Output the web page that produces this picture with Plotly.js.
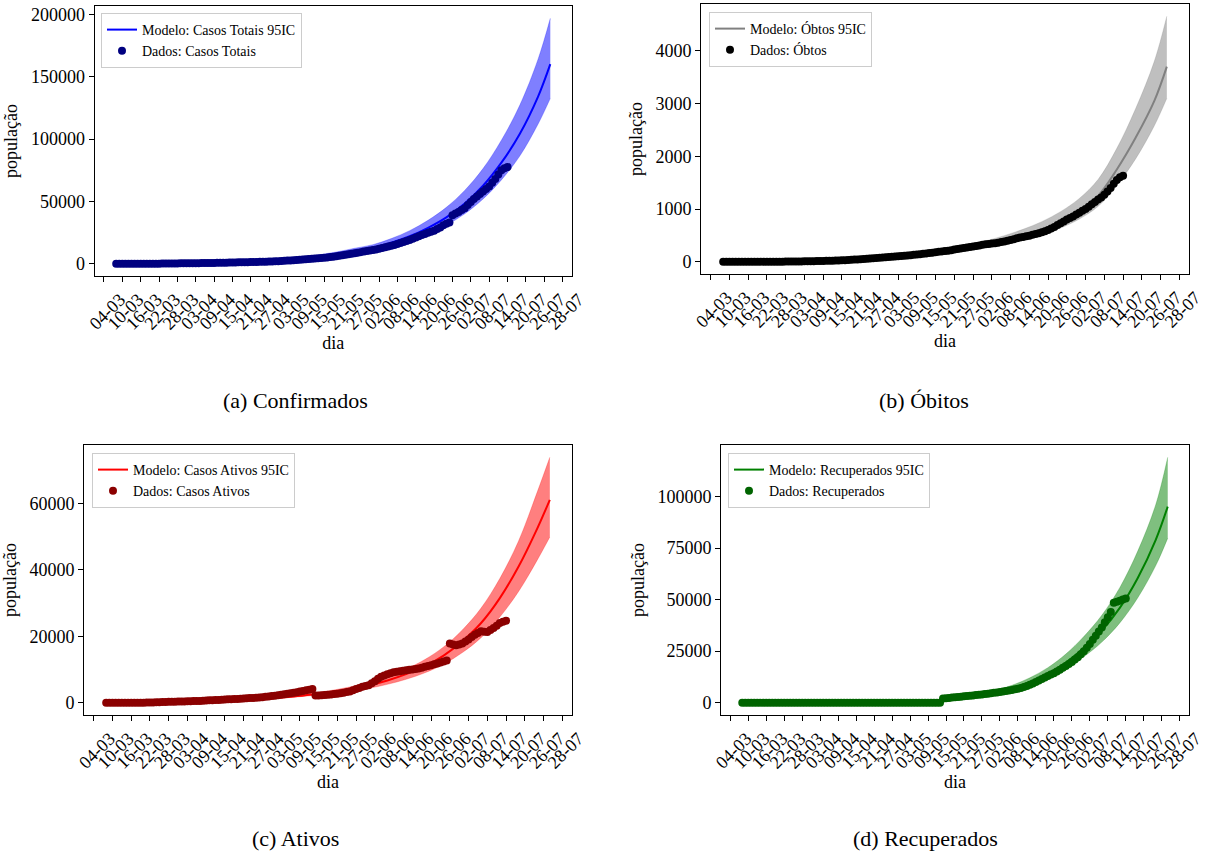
<!DOCTYPE html>
<html>
<head>
<meta charset="utf-8">
<script src="https://cdn.plot.ly/plotly-3.0.1.min.js"></script>
<style>html,body{margin:0;padding:0;background:#fff;}#chart{width:1211px;height:854px;}</style>
</head>
<body>
<div id="chart"></div>
<script>
// ---- data (day index counted from 04-03) ----
const tickDays = [0,6,12,18,24,30,36,42,48,54,60,66,72,78,84,90,96,102,108,114,120,126,132,138,144,150];
const tickLabels = ['04-03','10-03','16-03','22-03','28-03','03-04','09-04','15-04','21-04','27-04','03-05','09-05','15-05','21-05','27-05','02-06','08-06','14-06','20-06','26-06','02-07','08-07','14-07','20-07','26-07','28-07'];

const diasDados = [4,5,6,7,8,9,10,11,12,13,
  14,15,16,17,18,19,20,21,22,23,
  24,25,26,27,28,29,30,31,32,33,
  34,35,36,37,38,39,40,41,42,43,
  44,45,46,47,48,49,50,51,52,53,
  54,55,56,57,58,59,60,61,62,63,
  64,65,66,67,68,69,70,71,72,73,
  74,75,76,77,78,79,80,81,82,83,
  84,85,86,87,88,89,90,91,92,93,
  94,95,96,97,98,99,100,101,102,103,
  104,105,106,107,108,109,110,111,112,113,
  114,115,116,117,118,119,120,121,122,123,
  124,125,126,127,128,129,130,131,132];

const casosTotais = [1,1,1,1,1,1,2,4,5,9,
  15,21,30,55,80,105,130,160,200,230,
  260,290,310,340,370,400,430,465,500,530,
  570,625,680,730,780,830,880,940,1000,1050,
  1100,1150,1200,1250,1300,1380,1450,1520,1600,1680,
  1750,1850,1950,2080,2200,2350,2500,2650,2800,2950,
  3100,3300,3500,3700,3900,4100,4300,4550,4800,5050,
  5300,5650,6000,6400,6800,7200,7600,8000,8400,8850,
  9300,9750,10200,10600,11000,11500,12000,12700,13300,13900,
  14500,15100,15800,16700,17500,18200,19000,20000,21000,22000,
  23000,23900,24800,25600,26500,27800,29000,30800,32000,33000,
  38800,40200,41500,43000,44500,47000,49500,51800,54000,56000,
  58000,60000,62000,65000,68000,71500,75000,76500,77500];

const obitos = [0,0,0,0,0,0,0,0,0,0,
  0,0,0,0,0,0,0,0,1,1,
  2,2,3,4,5,6,7,8,9,11,
  12,14,15,17,18,20,22,25,27,30,
  32,36,40,44,47,51,55,60,65,71,
  76,80,85,90,95,100,105,110,115,120,
  125,132,138,144,150,158,165,172,180,188,
  195,203,210,220,230,240,250,260,270,280,
  290,300,310,320,330,338,345,352,360,372,
  385,398,410,428,445,458,470,482,495,510,
  525,542,560,580,600,630,660,695,730,765,
  800,830,860,895,930,965,1000,1045,1090,1135,
  1180,1220,1270,1330,1400,1480,1550,1600,1630];

const casosAtivos = [1,1,1,1,1,1,2,4,5,9,
  15,21,30,55,80,105,130,160,199,229,
  258,288,307,336,365,394,423,457,491,519,
  558,611,665,713,762,810,858,915,973,1020,
  1068,1114,1160,1206,1253,1329,1395,1460,1535,1609,
  1674,1770,1865,1990,2105,2250,2395,2540,2685,2830,
  2975,3168,3362,3556,3750,3942,4100,2200,2200,2250,
  2300,2400,2500,2600,2700,2850,3000,3200,3400,3750,
  4100,4450,4800,5050,5300,5900,6500,7200,7800,8200,
  8600,8900,9200,9350,9500,9650,9800,9900,10000,10150,
  10300,10550,10800,11050,11300,11550,11800,12100,12400,12700,
  17800,17500,17300,17500,17800,18400,19000,19800,20500,21000,
  21500,21400,21300,21900,22500,23200,24000,24400,24700];

const recuperados = [0,0,0,0,0,0,0,0,0,0,
  0,0,0,0,0,0,0,0,0,0,
  0,0,0,0,0,0,0,0,0,0,
  0,0,0,0,0,0,0,0,0,0,
  0,0,0,0,0,0,0,0,0,0,
  0,0,0,0,0,0,0,0,0,0,
  0,0,0,0,0,0,0,2100,2200,2350,
  2500,2650,2800,2950,3100,3250,3400,3550,3700,3850,
  4000,4200,4400,4600,4800,5000,5200,5450,5700,5950,
  6200,6500,6800,7200,7600,8150,8700,9350,10000,10750,
  11500,12250,13000,13650,14300,15150,16000,16900,17800,18800,
  19800,20900,22000,23500,25000,26700,28500,30500,32500,34500,
  36500,39000,41500,44000,48500,49000,49500,50000,50500];

const diasModelo = [4,10,16,22,28,34,40,46,52,58,64,70,76,82,88,94,100,106,112,118,124,130,136,142,146];

const modeloCasos    = [5,35,100,220,400,650,1000,1500,2200,3100,4300,5900,7900,10400,12800,16800,22000,28800,37200,48200,62500,81000,104000,134000,160000];
const modeloCasosSup = [5,38,110,245,450,740,1150,1750,2600,3650,5100,7000,9400,12400,15300,20200,26500,34800,45200,58800,76300,99000,127000,164000,196800];
const modeloCasosInf = [5,32,90,200,360,580,880,1310,1900,2670,3680,5020,6700,8780,10700,14000,18300,23900,30900,40000,51900,67200,86300,112000,132600];

const modeloObitos    = [0,1,3,7,14,24,36,52,70,92,120,155,200,255,320,400,495,610,760,960,1250,1750,2350,3050,3700];
const modeloObitosSup = [0,1,3,8,16,28,42,61,83,110,144,188,244,312,395,495,615,760,950,1200,1560,2150,2900,3800,4655];
const modeloObitosInf = [0,1,3,6,12,21,31,45,60,78,101,130,168,214,268,336,416,513,640,810,1050,1450,1950,2580,3100];

const modeloAtivos    = [5,35,95,190,320,470,640,850,1100,1450,1900,2500,3200,4100,5200,6700,8600,11000,14200,18500,24000,31500,41000,52500,61100];
const modeloAtivosSup = [5,38,105,210,355,525,720,960,1250,1650,2170,2870,3700,4750,6050,7850,10100,13000,16800,21900,28500,37400,48700,63500,73900];
const modeloAtivosInf = [5,32,85,170,285,420,570,755,970,1270,1650,2150,2720,3450,4330,5530,7050,9000,11600,15100,19600,25800,33500,43000,49900];

const modeloRec    = [0,2,8,20,40,70,120,190,300,460,800,1300,2100,3200,4800,7000,10000,14000,19500,26500,35000,46000,60500,79000,95100];
const modeloRecSup = [0,2,9,23,46,82,140,225,355,550,960,1560,2520,3850,5800,8450,12100,17000,23600,32100,42400,55800,73500,96000,119000];
const modeloRecInf = [0,2,7,17,34,60,103,165,260,400,680,1100,1780,2700,4050,5900,8450,11800,16400,22300,29400,38700,50900,66500,79800];

// ---- styling ----
const FONT = 'Liberation Serif, Times New Roman, serif';
const panels = [
  {ax:'', leg:'legend', mod:modeloCasos, sup:modeloCasosSup, inf:modeloCasosInf, dat:casosTotais,
   lineC:'#0000ff', fillC:'rgba(0,0,255,0.5)', dotC:'#000080',
   modName:'Modelo: Casos Totais 95IC', datName:'Dados: Casos Totais', dtick:50000,
   xd:[94.5,572], yd:[6,276], legXY:[101,13], cap:'(a) Confirmados', capXY:[295,400]},
  {ax:'2', leg:'legend2', mod:modeloObitos, sup:modeloObitosSup, inf:modeloObitosInf, dat:obitos,
   lineC:'#808080', fillC:'rgba(128,128,128,0.5)', dotC:'#000000',
   modName:'Modelo: Óbtos 95IC', datName:'Dados: Óbtos', dtick:1000,
   xd:[701,1189], yd:[4,274], legXY:[709,12], cap:'(b) Óbitos', capXY:[924,400]},
  {ax:'3', leg:'legend3', mod:modeloAtivos, sup:modeloAtivosSup, inf:modeloAtivosInf, dat:casosAtivos,
   lineC:'#ff0000', fillC:'rgba(255,0,0,0.5)', dotC:'#8b0000',
   modName:'Modelo: Casos Ativos 95IC', datName:'Dados: Casos Ativos', dtick:20000,
   xd:[84,572], yd:[445,715], legXY:[92,453], cap:'(c) Ativos', capXY:[295,838]},
  {ax:'4', leg:'legend4', mod:modeloRec, sup:modeloRecSup, inf:modeloRecInf, dat:recuperados,
   lineC:'#008000', fillC:'rgba(0,128,0,0.5)', dotC:'#006400',
   modName:'Modelo: Recuperados 95IC', datName:'Dados: Recuperados', dtick:25000,
   xd:[721,1189], yd:[445,715], legXY:[728,453], cap:'(d) Recuperados', capXY:[925,838]}
];

const W = 1211, H = 854;
const traces = [];
const layout = {
  width: W, height: H,
  margin: {l:0, r:0, t:0, b:0},
  paper_bgcolor: '#ffffff', plot_bgcolor: '#ffffff',
  font: {family: FONT, color: '#000', size: 18},
  showlegend: true,
  annotations: []
};

const allX = diasDados.concat(diasModelo);
const xMin = Math.min(...allX), xMax = Math.max(...allX);
const xPad = 0.05 * (xMax - xMin);

panels.forEach(p => {
  const xa = 'x' + p.ax, ya = 'y' + p.ax;
  traces.push({x: diasModelo, y: p.inf, xaxis: xa, yaxis: ya, mode: 'lines',
    line: {color: p.fillC, width: 0.5, shape: 'spline'}, showlegend: false, hoverinfo: 'skip', legend: p.leg});
  traces.push({x: diasModelo, y: p.sup, xaxis: xa, yaxis: ya, mode: 'lines', fill: 'tonexty',
    fillcolor: p.fillC, line: {color: p.fillC, width: 0.5, shape: 'spline'}, showlegend: false, hoverinfo: 'skip', legend: p.leg});
  traces.push({x: diasModelo, y: p.mod, xaxis: xa, yaxis: ya, mode: 'lines', name: p.modName,
    line: {color: p.lineC, width: 2, shape: 'spline'}, legend: p.leg});
  traces.push({x: diasDados, y: p.dat, xaxis: xa, yaxis: ya, mode: 'markers', name: p.datName,
    marker: {color: p.dotC, size: 8}, legend: p.leg});

  const allY = p.dat.concat(p.sup, p.inf, p.mod);
  const yMin = Math.min(...allY), yMax = Math.max(...allY);
  const yPad = 0.05 * (yMax - yMin);

  layout['xaxis' + p.ax] = {
    domain: [p.xd[0] / W, p.xd[1] / W],
    anchor: ya,
    range: [xMin - xPad, xMax + xPad],
    tickmode: 'array', tickvals: tickDays, ticktext: tickLabels,
    tickangle: -45, ticklabelshift: 16,
    ticks: 'outside', ticklen: 5, tickwidth: 1, tickcolor: '#000',
    showline: true, mirror: true, linecolor: '#000', linewidth: 1,
    showgrid: false, zeroline: false,
    tickfont: {family: FONT, size: 18, color: '#000'},
    title: {text: 'dia', font: {family: FONT, size: 18, color: '#000'}, standoff: 0}
  };
  layout['yaxis' + p.ax] = {
    domain: [1 - p.yd[1] / H, 1 - p.yd[0] / H],
    anchor: xa,
    range: [yMin - yPad, yMax + yPad],
    tickmode: 'linear', tick0: 0, dtick: p.dtick, tickformat: 'd',
    ticks: 'outside', ticklen: 5, tickwidth: 1, tickcolor: '#000',
    showline: true, mirror: true, linecolor: '#000', linewidth: 1,
    showgrid: false, zeroline: false,
    tickfont: {family: FONT, size: 18, color: '#000'},
    title: {text: 'população', font: {family: FONT, size: 18, color: '#000'}, standoff: 8}
  };
  layout[p.leg] = {
    x: p.legXY[0] / W, y: 1 - p.legXY[1] / H, xanchor: 'left', yanchor: 'top',
    bgcolor: 'rgba(255,255,255,0.8)', bordercolor: '#cccccc', borderwidth: 1,
    font: {family: FONT, size: 14, color: '#000'}, tracegroupgap: 0, itemwidth: 30,
    traceorder: 'normal'
  };
  layout.annotations.push({
    text: p.cap, xref: 'paper', yref: 'paper', x: p.capXY[0] / W, y: 1 - p.capXY[1] / H,
    xanchor: 'center', yanchor: 'middle', showarrow: false,
    font: {family: FONT, size: 22, color: '#000'}
  });
});

Plotly.newPlot('chart', traces, layout, {displayModeBar: false, staticPlot: true});
</script>
</body>
</html>
